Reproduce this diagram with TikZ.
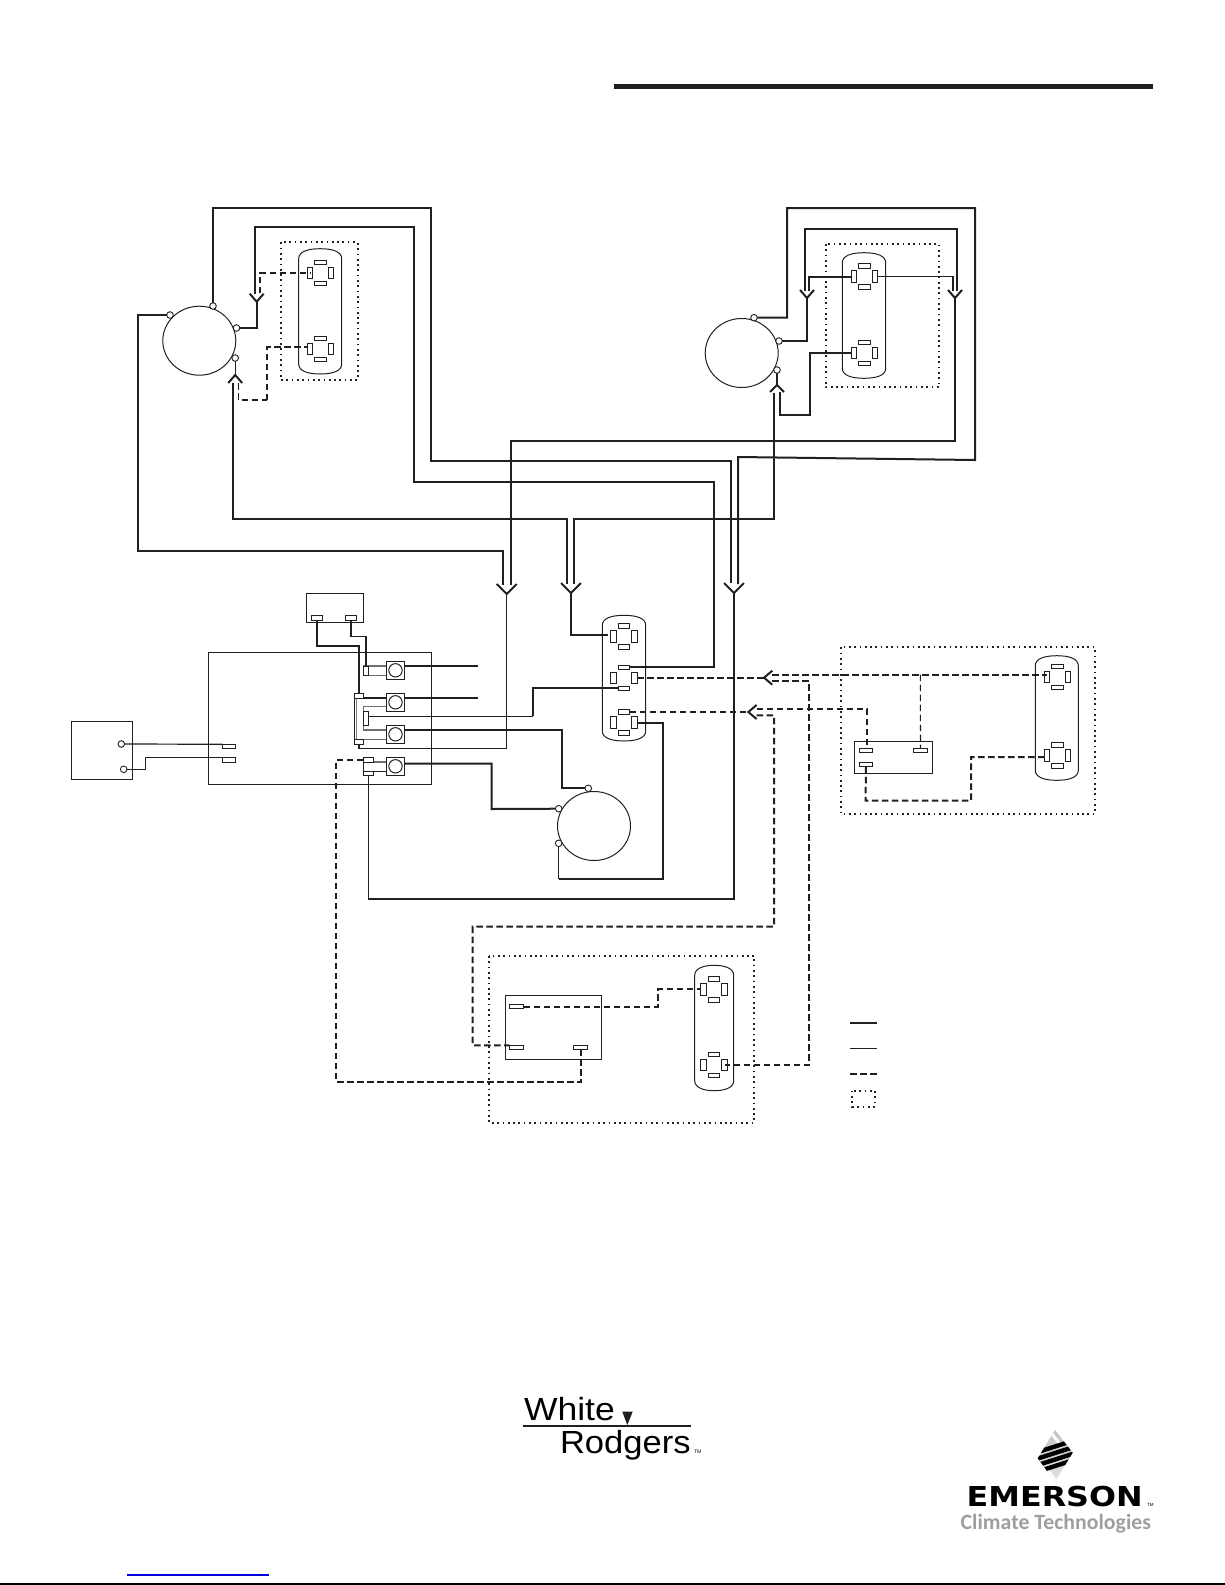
\documentclass[tikz,border=0pt]{standalone}
\usepackage{fontspec}
\setmainfont{Liberation Sans}
\newfontfamily\carl{Carlito}
\newfontfamily\emfont{DejaVu Sans}
\usetikzlibrary{shapes.geometric,calc}
\definecolor{ink}{HTML}{231F20}
\tikzset{
  x=1pt,y=-1pt,
  wire/.style={draw=ink,line width=2pt,line join=miter},
  midwire/.style={draw=ink,line width=1.7pt,line join=miter},
  fine/.style={draw=ink,line width=1.2pt,line join=miter},
  jumper/.style={draw=ink!65,line width=1.1pt,line join=miter},
  dashwire/.style={draw=ink,line width=2pt,dash pattern=on 6.5pt off 3.5pt},
  finedash/.style={draw=ink,line width=1.1pt,dash pattern=on 6.5pt off 3.5pt},
  dotbox/.style={draw=ink,line width=1.7pt,dash pattern=on 1.7pt off 3.6pt},
  outline/.style={draw=ink,line width=1pt},
  pinH/.style={draw=ink,fill=white,line width=.9pt,rectangle,minimum width=11.5pt,minimum height=4.5pt,inner sep=0pt,outer sep=0pt},
  pinV/.style={draw=ink,fill=white,line width=.9pt,rectangle,minimum width=5.2pt,minimum height=11.5pt,inner sep=0pt,outer sep=0pt},
  pinW/.style={draw=ink,fill=white,line width=.9pt,rectangle,minimum width=13.5pt,minimum height=4.5pt,inner sep=0pt,outer sep=0pt},
  boxnode/.style={draw=ink,line width=1pt,rectangle,inner sep=0pt,outer sep=0pt},
  motor/.style={draw=ink,line width=1pt,ellipse,minimum width=73pt,minimum height=69pt,inner sep=0pt,outer sep=0pt},
  term/.style={draw=ink,fill=white,line width=.9pt,circle,minimum size=6.6pt,inner sep=0pt,outer sep=0pt},
  lug/.style={draw=ink,fill=white,line width=1pt,rectangle,minimum size=18.4pt,inner sep=0pt,outer sep=0pt},
  lugring/.style={draw=ink,fill=white,line width=1pt,circle,minimum size=13.4pt,inner sep=0pt,outer sep=0pt},
  tab/.style={rectangle,draw=ink,fill=white,line width=.9pt,inner sep=0pt,outer sep=0pt},
  logotext/.style={anchor=base west,inner sep=0pt,outer sep=0pt},
}
% plug body: l t r b
\newcommand{\plugbody}[4]{%
  \draw[outline] (#1,#2+10) .. controls (#1,#2+3) and (#1+9,#2) .. ({(#1+#3)/2},#2)
    .. controls (#3-9,#2) and (#3,#2+3) .. (#3,#2+10) -- (#3,#4-10)
    .. controls (#3,#4-3) and (#3-9,#4) .. ({(#1+#3)/2},#4)
    .. controls (#1+9,#4) and (#1,#4-3) .. (#1,#4-10) -- cycle;}
% four pins of one socket: name cx cy
\newcommand{\socket}[3]{%
  \node[pinH] (#1-t) at (#2,#3-10.5) {};
  \node[pinH] (#1-b) at (#2,#3+10.5) {};
  \node[pinV] (#1-l) at (#2-10.5,#3) {};
  \node[pinV] (#1-r) at (#2+10.5,#3) {};}
\newcommand{\downhead}[3]{\draw[wire] (#1) ++(-#2,-#3) -- (#1) -- ++(#2,-#3);}
\newcommand{\uphead}[3]{\draw[wire] (#1) ++(-#2,#3) -- (#1) -- ++(#2,#3);}
\newcommand{\lefthead}[3]{\draw[wire] (#1) ++(#3,-#2) -- (#1) -- ++(#3,#2);}
\begin{document}
\begin{tikzpicture}
\useasboundingbox (0,0) rectangle (1225,1585);
\fill[white] (0,0) rectangle (1225,1585);
% page rules
\fill[ink] (614,84) rectangle (1153,88.5);
\fill[black] (0,1583) rectangle (1225,1585);
\fill[blue!85!black] (127,1574.3) rectangle (269,1575.7);

% dotted enclosures
\draw[dotbox] (281,242.3) rectangle (357.7,380);
\draw[dotbox] (825.7,244) rectangle (939,387.3);
\draw[dotbox] (840.7,647.3) rectangle (1095,814);
\draw[dotbox] (489,956) rectangle (754.3,1122.7);

% plugs and their sockets
\plugbody{298.7}{248.7}{341.7}{374}
\socket{pa1}{320.5}{272.8}
\socket{pa2}{320.5}{348.7}
\plugbody{842.3}{252.7}{885.7}{378.3}
\socket{pb1}{864.5}{276.5}
\socket{pb2}{864.5}{352.7}
\plugbody{602.3}{615.3}{645.7}{741}
\socket{pc1}{624}{636.5}
\socket{pc2}{624}{677.7}
\socket{pc3}{624}{722.5}
\plugbody{1035.3}{655.7}{1078.3}{780.3}
\socket{pd1}{1057.3}{676.7}
\socket{pd2}{1057.3}{755.3}
\plugbody{694.7}{965.3}{733.7}{1090.7}
\socket{pe1}{714}{989.3}
\socket{pe2}{714}{1065}

% motors
\node[motor] (m1) at (199.3,340.7) {};
\node[motor] (m2) at (741.7,353) {};
\node[motor] (m3) at (594,826) {};
\node[term] (m1a) at (213,306) {};
\node[term] (m1b) at (170,315) {};
\node[term] (m1c) at (236.5,328) {};
\node[term] (m1d) at (235.2,358) {};
\node[term] (m2a) at (754,317.7) {};
\node[term] (m2b) at (779,341) {};
\node[term] (m2c) at (777,370) {};
\node[term] (m3a) at (588.3,788.3) {};
\node[term] (m3b) at (558.7,808.7) {};
\node[term] (m3c) at (558.7,843.3) {};

% boxes
\node[boxnode,minimum width=57pt,minimum height=29.4pt] (top) at (334.8,608) {};
\node[pinH] (topa) at (317,618) {};
\node[pinH] (topb) at (351,618) {};
\node[boxnode,minimum width=223pt,minimum height=132pt] (ctrl) at (319.8,718.3) {};
\node[boxnode,minimum width=61.4pt,minimum height=58pt] (src) at (102,750.3) {};
\node[term] (srca) at (121.3,744) {};
\node[term] (srcb) at (123.7,769.3) {};
\node[pinW] (ctla) at (229,746.5) {};
\node[pinW,minimum height=5.4pt] (ctlb) at (229,760) {};
\node[boxnode,minimum width=78.4pt,minimum height=32pt] (rela) at (893.5,757.3) {};
\node[pinW] (relaa) at (865.8,750.5) {};
\node[pinW,minimum width=14.4pt] (relab) at (920.5,750.5) {};
\node[pinW] (relac) at (865.8,764.5) {};
\node[boxnode,minimum width=96.4pt,minimum height=64pt] (relb) at (553.5,1027.3) {};
\node[pinW,minimum width=14.4pt] (relba) at (516.5,1006.5) {};
\node[pinW,minimum width=14.4pt] (relbb) at (516.5,1047.5) {};
\node[pinW,minimum width=14.4pt] (relbc) at (580.5,1047.5) {};

% lugs
\node[lug] (l1) at (395.5,670.3) {};
\node[lug] (l2) at (395.5,702.3) {};
\node[lug] (l3) at (395.5,734.3) {};
\node[lug] (l4) at (395.5,766.3) {};
\node[lugring] (r1) at (l1) {};
\node[lugring] (r2) at (l2) {};
\node[lugring] (r3) at (l3) {};
\node[lugring] (r4) at (l4) {};

% internal jumpers of the control board
\draw[jumper] (363.3,666) -- (386.3,666);
\draw[jumper] (363.3,675.3) -- (386.3,675.3);
\draw[fine] (354.3,698) -- (386.3,698);
\draw[jumper] (354.3,739.5) -- (386.3,739.5);
\draw[fine] (354.3,695) -- (354.3,742);
\draw[draw=gray,line width=.8pt] (356.5,698) -- (356.5,739.5);
\draw[jumper] (386.3,706.7) -- (363.5,706.7) -- (363.5,730) -- (386.3,730);
\draw[jumper] (386.3,762) -- (363.3,762);
\draw[fine] (386.3,771.5) -- (363.3,771.5);
\draw[fine] (363.3,757.7) -- (363.3,775.7);
\node[tab,minimum width=5.4pt,minimum height=9.3pt] (s1) at (366,670.6) {};
\node[tab,minimum width=9.4pt,minimum height=4.7pt] (s2t) at (359,695.6) {};
\node[tab,minimum width=9.4pt,minimum height=4.4pt] (s2b) at (359,741.8) {};
\node[tab,minimum width=5pt,minimum height=14pt] (s3) at (366.2,718.7) {};
\node[tab,minimum width=10pt,minimum height=4.4pt] (s4t) at (368.3,760) {};
\node[tab,minimum width=10pt,minimum height=4.4pt] (s4b) at (368.3,773.5) {};

% arrow tips
\coordinate (h1) at (256.7,301.7);
\coordinate (h2) at (235.2,375);
\coordinate (h3) at (807,298);
\coordinate (h4) at (955,298);
\coordinate (h5) at (777,385);
\coordinate (h6) at (506.7,594);
\coordinate (h7) at (571,593);
\coordinate (h8) at (734,593);
\coordinate (h9) at (764,677.7);
\coordinate (h10) at (748.3,712);
\downhead{h1}{7}{8}
\uphead{h2}{7}{8}
\downhead{h3}{7}{8}
\downhead{h4}{7}{8}
\uphead{h5}{7}{7}
\downhead{h6}{10}{10}
\downhead{h7}{10}{10}
\downhead{h8}{10}{10}
\lefthead{h9}{7}{8.3}
\lefthead{h10}{7}{8.3}

% motor 1 wiring
\draw[wire] (m1a) -- (213,208) -- (431,208) -- (431,461) -- (731,461) -- (731,583);
\draw[wire] (m1b) -- (137.7,315) -- (137.7,551) -- (503,551) -- (503,585);
\draw[wire] (m1c) -- (256.7,328) -- (h1);
\draw[wire] (254.7,294) -- (254.7,226.7) -- (413.7,226.7) -- (413.7,482) -- (714,482) -- (714,667.2) -- (pc2-t.east);
\draw[fine] (m1d) -- (h2);
\draw[wire] (233,383) -- (233,519) -- (567,519) -- (567,584);
\draw[dashwire] (260,293) -- (260,272.8) -- (pa1-l.center);
\draw[finedash] (238.7,383) -- (238.7,400) -- (267,400);
\draw[dashwire] (267,400) -- (267,347) -- (308,347);

% motor 2 wiring
\draw[wire] (m2a) -- (787,317.7) -- (787,208) -- (975,208) -- (975,460) -- (738,457) -- (738,584);
\draw[wire] (m2b) -- (807,341) -- (h3);
\draw[wire] (805,291) -- (805,229) -- (956.7,229) -- (956.7,291);
\draw[wire] (809,291) -- (809,276.5) -- (pb1-l.west);
\draw[midwire] (952.7,291) -- (952.7,276.5) -- (pb1-r.east);
\draw[midwire] (h4) -- (955,440.7) -- (510.7,440.7) -- (510.7,585);
\draw[fine] (m2c) -- (h5);
\draw[wire] (pb2-l.west) -- (810,352.7) -- (810,415) -- (780,415) -- (780,392);
\draw[wire] (774,393) -- (774,519) -- (574,519) -- (574,584);

% control board wiring
\draw[fine] (srca) -- (ctla.north west);
\draw[fine] (srcb) -- (145.3,769.3) -- (145.3,757.3) -- (ctlb.north west);
\draw[wire] (topa.south) -- (317,645.7) -- (359,645.7) -- (s2t.north);
\draw[fine] (topb.south) -- (351,636.3) -- (366,636.3) -- (s1.north);
\draw[wire] (l1.east) ++(0,-4.3) -- (478,666);
\draw[wire] (l2.east) ++(0,-4.3) -- (478,698);
\draw[wire] (l3.east) ++(0,-4.3) -- (561.7,730) -- (561.7,788.3) -- (m3a);
\draw[wire] (l4.east) ++(0,-2.6) -- (491.7,763.7) -- (491.7,809) -- (m3b);
\draw[fine] (s3.east) ++(0,-2.4) -- (532.7,716.3);
\draw[wire] (532.7,716.3) -- (532.7,688.2) -- (pc2-b.west);
\draw[fine] (s2b.south) -- (359,748.3) -- (506.7,748.3) -- (h6);
\draw[fine] (s4b.south) -- (368.3,899);
\draw[wire] (368.3,899) -- (734,899) -- (h8);
\draw[wire] (h7) -- (571,635) -- (608,635);
\draw[wire] (pc3-r.east) -- (663,722.5) -- (663,878.7) -- (558.7,878.7);
\draw[fine] (558.7,878.7) -- (m3c);

% dashed control wiring
\draw[dashwire] (pc2-r.east) -- (h9);
\draw[dashwire] (pc3-t.east) -- (h10);
\draw[dashwire] (772,674.7) -- (1047,674.7);
\draw[dashwire] (772,681) -- (809,681) -- (809,1065) -- (pe2-r.center);
\draw[dashwire] (756.6,709) -- (866.7,709) -- (866.7,748) ;
\draw[dashwire] (756.6,715.3) -- (774,715.3) -- (774,926.7) -- (472.7,926.7) -- (472.7,1045.3) -- (relbb.north west);
\draw[finedash] (920.3,674.7) -- (relab.north);
\draw[dashwire] (relac.south) -- (865.7,800.7) -- (971,800.7) -- (971,757) -- (1044.3,757);
\draw[dashwire] (s4t.west) -- (336,760) -- (336,1081.7) -- (581,1081.7) -- (581,1050);
\draw[dashwire] (relba.east) -- (658,1006.5) -- (658,989.3) -- (pe1-l.west);

% legend
\coordinate (lg1) at (850,1023);
\coordinate (lg2) at (877,1023);
\coordinate (lg3) at (850,1048.3);
\coordinate (lg4) at (877,1048.3);
\coordinate (lg5) at (850,1074);
\coordinate (lg6) at (877,1074);
\draw[wire] (lg1) -- (lg2);
\draw[fine] (lg3) -- (lg4);
\draw[dashwire] (lg5) -- (lg6);
\draw[dotbox] (852,1090.7) rectangle (875,1106.7);

% White-Rodgers logo
\node[logotext] (wh) at (524,1420) {\scalebox{1.11}[1]{\fontsize{32}{32}\selectfont White}};
\node[logotext] (ro) at (560,1453) {\scalebox{1.08}[1]{\fontsize{32}{32}\selectfont Rodgers}};
\node[logotext] (rotm) at (694,1453) {\fontsize{5}{5}\selectfont TM};
\draw[ink,line width=1.6pt] (523.3,1425.7) -- (691,1425.7);
\fill[ink] (622.3,1411.7) -- (632.7,1411.7) -- (627.3,1425) -- cycle;

% Emerson logo
\begin{scope}
\clip (1055,1430) -- (1072.7,1452.7) -- (1055,1481.7) -- (1037.7,1458.3) -- cycle;
\shade[top color=gray!50,bottom color=gray!25,middle color=gray!30] (1030,1428) rectangle (1080,1484);
\draw[white,line width=3pt] (1049,1430) -- (1062,1447);
\draw[white,line width=3pt] (1046,1468) -- (1059,1485);
\foreach \yy in {1446.5,1453,1459.5,1466}{
  \draw[black,line width=4.4pt] (1030,\yy+8) -- (1080,\yy-8);
}
\end{scope}
\node[logotext] (em) at (966.7,1506) {\scalebox{1.16}[1]{\emfont\fontsize{27.4}{28}\selectfont\bfseries EMERSON}};
\node[logotext] (emtm) at (1147,1506) {\fontsize{4.5}{5}\selectfont TM};
\node[logotext,text=gray!75] (cl) at (960.7,1529) {\carl\fontsize{21.8}{22}\selectfont\bfseries Climate Technologies};
\end{tikzpicture}
\end{document}
